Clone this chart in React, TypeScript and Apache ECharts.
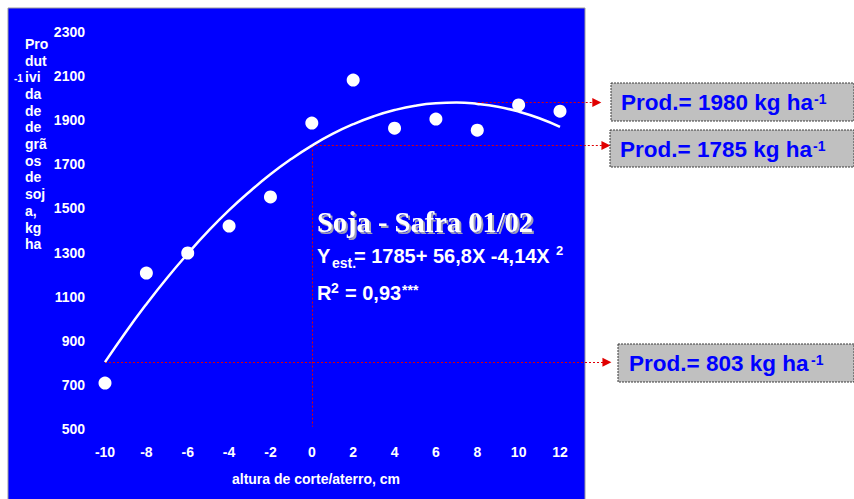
import React, { useEffect, useRef } from "react";
import * as echarts from "echarts";

const xValues = [-10, -8, -6, -4, -2, 0, 2, 4, 6, 8, 10, 12];
const yieldValues = [708, 1207, 1298, 1420, 1552, 1887, 2082, 1864, 1905, 1855, 1969, 1941];
const fitX = [-10, -9, -8, -7, -6, -5, -4, -3, -2, -1, 0, 1, 2, 3, 4, 5, 6, 7, 8, 9, 10, 11, 12];
const fitValues = [803, 939, 1066, 1185, 1295, 1398, 1492, 1577, 1655, 1724, 1785, 1838, 1882, 1918, 1946, 1966, 1977, 1980, 1974, 1961, 1939, 1909, 1870];
// reference lines: [x start, x end, value]
const refLines = [
  [6.86, 13.78, 1980],
  [0, 14.22, 1785],
  [-10, 14.27, 803],
];
const vertLine = [0, 1785, 510];
const yTicks = [500, 700, 900, 1100, 1300, 1500, 1700, 1900, 2100, 2300];
const boxLabels = ["Prod.= 1980 kg ha", "Prod.= 1785 kg ha", "Prod.= 803 kg ha"];
const yTitleLines = ["Pro", "dut", "ivi", "da", "de", "de", "grã", "os", "de", "soj", "a,", "kg", "ha"];

const SANS = '"Liberation Sans", Arial, sans-serif';
const SERIF = '"Liberation Serif", "Times New Roman", serif';

export default function App() {
  const ref = useRef<HTMLDivElement>(null);
  useEffect(() => {
    if (!ref.current) return;
    const chart = echarts.init(ref.current, undefined, { renderer: "svg" });
    const txt = (x: number, y: number, text: string, size: number, fill = "#ffffff", extra: any = {}) => ({
      type: "text",
      x,
      y,
      z: 20,
      style: { text, font: `bold ${size}px ${SANS}`, fill, verticalAlign: "middle", align: "left", ...extra },
    });
    const boxes = [
      { x: 611, y: 83, w: 243, h: 38, tx: 621, sx: 814, label: boxLabels[0] },
      { x: 610, y: 130, w: 244, h: 37, tx: 620, sx: 813, label: boxLabels[1] },
      { x: 618, y: 344, w: 236, h: 38, tx: 629, sx: 811, label: boxLabels[2] },
    ];
    const graphics: any[] = [
      {
        type: "rect",
        z: -10,
        shape: { x: 8, y: 8, width: 577, height: 495 },
        style: { fill: "#0000ff", stroke: "#9a9a9a", lineWidth: 1 },
      },
      {
        type: "text",
        x: 25,
        y: 35.5,
        z: 20,
        style: {
          text: yTitleLines.join("\n"),
          font: `bold 14px ${SANS}`,
          lineHeight: 16.7,
          fill: "#ffffff",
          verticalAlign: "top",
          align: "left",
        },
      },
      txt(14, 78, "-1", 10),
      txt(316, 479, "altura de corte/aterro, cm", 14, "#ffffff", { align: "center" }),
      {
        type: "text",
        x: 317,
        y: 222,
        z: 20,
        style: {
          text: "Soja - Safra 01/02",
          font: `bold 28.5px ${SERIF}`,
          fill: "#ffffff",
          verticalAlign: "middle",
          align: "left",
          textShadowColor: "#a0a0b8",
          textShadowOffsetX: 2,
          textShadowOffsetY: 2,
          textShadowBlur: 1,
        },
      },
      txt(317, 256, "Y", 20),
      txt(332, 263, "est.", 14),
      txt(354, 256, "= 1785+ 56,8X -4,14X", 20),
      txt(556, 250, "2", 13),
      txt(317, 293, "R", 20),
      txt(331, 288, "2", 14),
      txt(345, 293, "= 0,93", 20),
      txt(402, 290, "***", 14),
    ];
    boxes.forEach((b) => {
      graphics.push({
        type: "rect",
        z: 15,
        shape: { x: b.x, y: b.y, width: b.w, height: b.h },
        style: { fill: "#c0c0c0", stroke: "#3a3a3a", lineWidth: 1, lineDash: [2, 1] },
      });
      graphics.push(txt(b.tx, b.y + b.h / 2 + 0.5, b.label, 22.5, "#0000ff"));
      graphics.push(txt(b.sx, b.y + b.h / 2 - 3, "-1", 14, "#0000ff"));
    });

    chart.setOption({
      animation: false,
      backgroundColor: "#ffffff",
      grid: { left: 105, right: 294, top: 32, bottom: 70, containLabel: false },
      xAxis: {
        type: "value",
        min: -10,
        max: 12,
        interval: 2,
        axisLine: { show: false },
        axisTick: { show: false },
        splitLine: { show: false },
        axisLabel: { color: "#ffffff", fontFamily: SANS, fontWeight: "bold", fontSize: 14, margin: 16 },
      },
      yAxis: {
        type: "value",
        min: 500,
        max: 2300,
        interval: 100,
        axisLine: { show: false },
        axisTick: { show: false },
        splitLine: { show: false },
        axisLabel: {
          color: "#ffffff",
          fontFamily: SANS,
          fontWeight: "bold",
          fontSize: 14,
          margin: 20,
          formatter: (v: number) => (yTicks.indexOf(v) >= 0 ? String(v) : ""),
        },
      },
      graphic: graphics,
      series: [
        {
          type: "lines",
          coordinateSystem: "cartesian2d",
          clip: false,
          z: 3,
          symbol: ["none", "triangle"],
          symbolSize: 9,
          lineStyle: { color: "#e00000", width: 1, type: [2, 2], opacity: 1 },
          data: refLines.map((r) => ({ coords: [[r[0], r[2]], [r[1], r[2]]] })),
        },
        {
          type: "lines",
          coordinateSystem: "cartesian2d",
          clip: false,
          z: 3,
          symbol: ["none", "none"],
          lineStyle: { color: "#e00000", width: 1, type: [2, 2], opacity: 1 },
          data: [{ coords: [[vertLine[0], vertLine[1]], [vertLine[0], vertLine[2]]] }],
        },
        {
          type: "line",
          smooth: true,
          showSymbol: false,
          z: 4,
          lineStyle: { color: "#ffffff", width: 2.5 },
          data: fitX.map((x, i) => [x, fitValues[i]]),
        },
        {
          type: "scatter",
          symbolSize: 13,
          z: 5,
          itemStyle: { color: "#ffffff", opacity: 1 },
          data: xValues.map((x, i) => [x, yieldValues[i]]),
        },
      ],
    });
    return () => chart.dispose();
  }, []);
  return <div ref={ref} style={{ position: "absolute", left: 0, top: 0, width: 854, height: 499 }} />;
}
